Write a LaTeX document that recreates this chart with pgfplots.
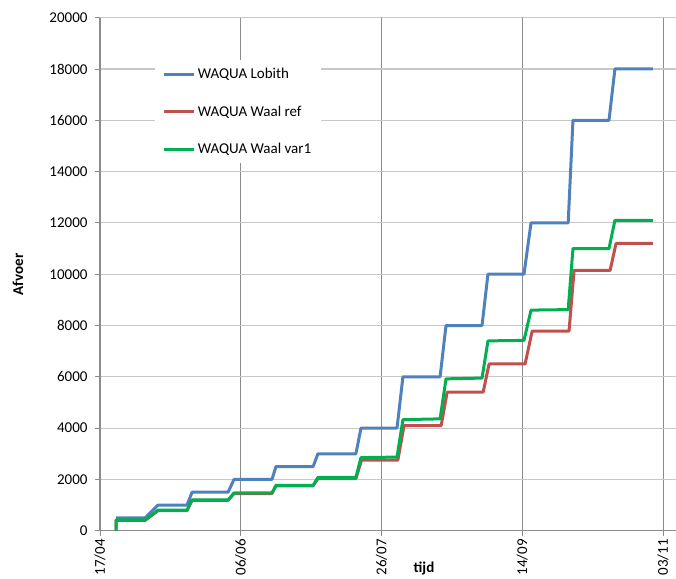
\documentclass[border=0pt]{standalone}
\usepackage{fontspec}
\setmainfont{Carlito}
\usepackage{pgfplots}
\pgfplotsset{compat=1.18}
\definecolor{lobith}{HTML}{4F81BD}
\definecolor{waalref}{HTML}{C0504D}
\definecolor{waalvar}{HTML}{00B050}
\definecolor{vgrid}{RGB}{140,140,140}
\definecolor{hgrid}{RGB}{200,200,200}
\begin{document}
\begin{tikzpicture}[font=\fontsize{15}{18}\selectfont]
\useasboundingbox (-100pt,-47.3pt) rectangle (576pt,530.7pt);
\begin{axis}[
    at={(0,0)}, anchor=south west,
    scale only axis, width=576pt, height=513pt,
    xmin=0, xmax=204.6, ymin=0, ymax=20000,
    xtick={0,50,100,150,200},
    xticklabels={17/04,06/06,26/07,14/09,03/11},
    ytick={0,2000,...,20000},
    scaled y ticks=false,
    /pgf/number format/.cd, 1000 sep={}, assume math mode=true, /pgfplots/.cd,
    grid=major,
    x grid style={vgrid, line width=1pt},
    y grid style={hgrid, line width=1.2pt},
    axis lines*=left,
    axis line style={vgrid, line width=0.9pt},
    tick align=outside, major tick length=5pt,
    tick style={vgrid, line width=0.9pt},
    xticklabel style={rotate=90, anchor=east},
    yticklabel style={xshift=-4pt},
    xlabel={\textbf{tijd}}, ylabel={\textbf{Afvoer}},
    xlabel style={at={(axis description cs:0.5625,0)}, anchor=center, yshift=-37.3pt},
    ylabel style={at={(axis description cs:0,0.5)}, anchor=center, yshift=82pt},
    legend style={at={(axis description cs:0.095,0.917)}, anchor=north west,
        draw=none, fill=white, row sep=21.5pt, inner xsep=8pt, inner ysep=6pt,
        font=\fontsize{15}{18}\selectfont},
    legend cell align=left,
    legend image code/.code={\draw[#1] (0pt,0pt) -- (30pt,0pt);},
    every axis plot/.append style={line width=3pt, line join=round},
]
\addplot[lobith] coordinates {
(5.7,500) (16,500) (20.6,1000) (30.9,1000) (32.7,1500) (45.5,1500) (47.6,2000)
(61.1,2000) (62.5,2500) (75.7,2500) (77.4,3000) (90.9,3000) (92.7,4000)
(105.5,4000) (107.6,6000) (120.8,6000) (122.9,8000) (135.7,8000) (137.8,10000)
(150.6,10000) (153.1,12000) (166.3,12000) (168,16000) (180.8,16000) (182.9,18000)
(196.4,18000)};
\addlegendentry{WAQUA Lobith}
\addplot[waalref] coordinates {
(5.7,0) (5.7,400) (16,400) (20.6,780) (30.9,780) (32.7,1180) (45.5,1180)
(47.6,1450) (61.1,1450) (62.5,1750) (75.7,1750) (77.4,2030) (90.9,2030)
(92.9,2750) (105.8,2750) (108,4100) (121.2,4100) (123.3,5400) (136.1,5400)
(138.2,6500) (151,6500) (153.5,7780) (166.6,7780) (168.4,10150) (181.2,10150)
(183.3,11200) (196.4,11200)};
\addlegendentry{WAQUA Waal ref}
\addplot[waalvar] coordinates {
(5.7,0) (5.7,420) (16,420) (20.6,800) (30.9,800) (32.7,1200) (45.5,1200)
(47.6,1470) (61.1,1470) (62.5,1770) (75.7,1770) (77.4,2080) (90.9,2080)
(92.7,2850) (105.5,2870) (107.6,4330) (120.8,4360) (122.9,5920) (135.7,5950)
(137.8,7400) (150.6,7420) (153.1,8600) (166.3,8620) (168,11000) (180.8,11000)
(182.9,12100) (196.4,12100)};
\addlegendentry{WAQUA Waal var1}
\end{axis}
\end{tikzpicture}
\end{document}
